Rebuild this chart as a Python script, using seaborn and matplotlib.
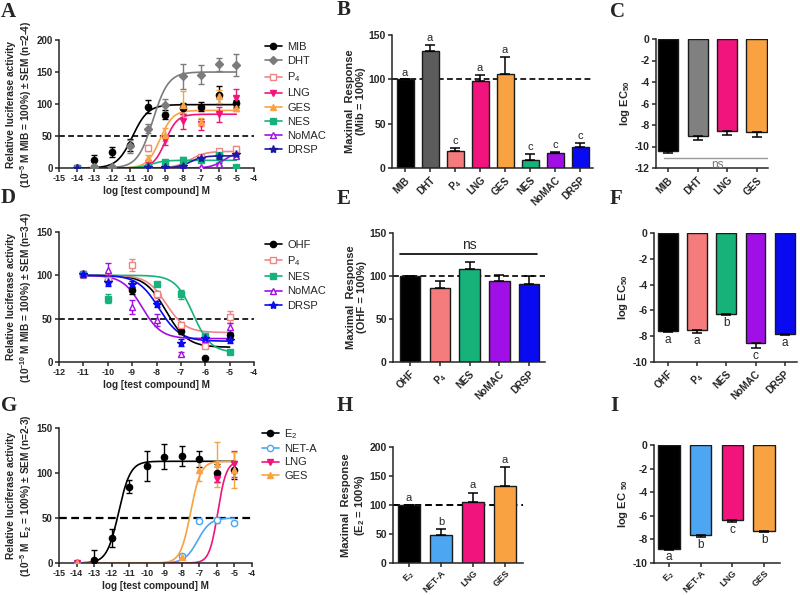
import numpy as np
import pandas as pd
import matplotlib
matplotlib.use("Agg")
import matplotlib.pyplot as plt
import seaborn as sns
from matplotlib.lines import Line2D

nan = np.nan

# ---------------- panel A: agonist curves (10^-5 M MIB = 100%) ----------------
a_x = [-14, -13, -12, -11, -10, -9, -8, -7, -6, -5]
a_mib = [0, 13, 25, 36, 96, 83, 93, 96, 114, 101]
a_mib_err = [0, 8, 8, 9, 10, 7, 9, 7, 14, 5]
a_dht = [0, 2, 2, 34, 61, 98, 143, 146, 162, 161]
a_dht_err = [0, 2, 2, 10, 7, 10, 20, 15, 10, 17]
a_p4 = [0, nan, nan, nan, 31, nan, nan, 17, 26, 30]
a_p4_err = [0, 0, 0, 0, 5, 0, 0, 3, 4, 5]
a_lng = [0, nan, nan, nan, 8, 43, 73, 68, 84, 109]
a_lng_err = [0, 0, 0, 0, 3, 7, 12, 8, 12, 15]
a_ges = [0, nan, nan, nan, 16, 52, 98, 72, 112, 93]
a_ges_err = [0, 0, 0, 0, 4, 10, 22, 6, 10, 4]
a_nes = [0, nan, nan, nan, 1, 10, 12, 13, 20, 1]
a_nes_err = [0, 0, 0, 0, 1, 3, 5, 3, 10, 1]
a_nomac = [0, nan, nan, nan, nan, 0, 0, 1, 6, 19]
a_nomac_err = [0, 0, 0, 0, 0, 0, 0, 1, 2, 3]
a_drsp = [0, nan, nan, nan, 1, 1, 3, 16, 18, 22]
a_drsp_err = [0, 0, 0, 0, 1, 1, 2, 3, 4, 4]
# fitted curves: bottom, top, logEC50, hill
a_fit_mib = (0, 99, -10.85, 1.0)
a_fit_dht = (0, 150, -9.7, 1.0)
a_fit_p4 = (0, 26, -7.6, 1.0)
a_fit_lng = (0, 84, -9.0, 1.3)
a_fit_ges = (0, 90, -9.3, 1.2)
a_fit_nes = (0, 12, -9.8, 1.2)
a_fit_nomac = (0, 25, -5.7, 1.2)
a_fit_drsp = (0, 19, -7.6, 1.2)

# ---------------- panel D: antagonist curves (10^-10 M MIB = 100%) ----------------
d_x = [-11, -10, -9, -8, -7, -6, -5]
d_ohf = [101, 95, 83, 78, 36, 5, 31]
d_ohf_err = [3, 3, 4, 3, 4, 0, 3]
d_p4 = [101, 95, 112, 78, 43, 19, 52]
d_p4_err = [4, 6, 7, 4, 3, 2, 7]
d_nes = [101, 73, nan, 90, 78, 30, 12]
d_nes_err = [3, 5, 0, 2, 5, 3, 2]
d_nomac = [101, 106, 63, 48, 9, 27, 40]
d_nomac_err = [2, 8, 8, 7, 2, 3, 5]
d_drsp = [101, 92, 90, 67, 22, 28, 25]
d_drsp_err = [3, 4, 4, 3, 4, 3, 3]
d_fit_ohf = (17, 100, -7.6, -1.0)
d_fit_p4 = (34, 100, -7.6, -1.1)
d_fit_nes = (11, 100, -6.5, -1.2)
d_fit_nomac = (27, 100, -8.6, -1.1)
d_fit_drsp = (24, 100, -7.9, -1.0)

# ---------------- panel G: ER agonist curves (10^-5 M E2 = 100%) ----------------
g_x = [-14, -13, -12, -11, -10, -9, -8, -7, -6, -5]
g_e2 = [0, 3, 28, 85, 108, 118, 119, 116, 100, 103]
g_e2_err = [0, 12, 10, 7, 17, 14, 11, 9, 10, 10]
g_neta = [0, nan, nan, nan, nan, nan, 8, 47, 48, 45]
g_neta_err = [0, 0, 0, 0, 0, 0, 2, 3, 3, 2]
g_lng = [0, nan, nan, nan, nan, nan, nan, nan, 93, 110]
g_lng_err = [0, 0, 0, 0, 0, 0, 0, 0, 3, 14]
g_ges = [0, nan, nan, nan, nan, nan, 7, 103, 110, 103]
g_ges_err = [0, 0, 0, 0, 0, 0, 2, 12, 25, 20]
g_fit_e2 = (0, 113, -11.6, 1.3)
g_fit_neta = (0, 50, -7.1, 1.2)
g_fit_lng = (0, 113, -5.95, 1.8)
g_fit_ges = (0, 113, -7.5, 1.5)

# ---------------- bar panels ----------------
b_names = ['MIB', 'DHT', 'P$_4$', 'LNG', 'GES', 'NES', 'NoMAC', 'DRSP']
b_vals = [100, 132, 19, 98, 106, 9, 17, 24]
b_err = [0, 7, 4, 7, 19, 7, 1, 4]
b_letters = ['a', 'a', 'c', 'a', 'a', 'c', 'c', 'c']

c_names = ['MIB', 'DHT', 'LNG', 'GES']
c_vals = [-10.45, -9.0, -8.6, -8.65]
c_err = [0.2, 0.43, 0.3, 0.47]

e_names = ['OHF', 'P$_4$', 'NES', 'NoMAC', 'DRSP']
e_vals = [100, 86, 108, 94, 91]
e_err = [0, 8, 8, 7, 9]

f_names = ['OHF', 'P$_4$', 'NES', 'NoMAC', 'DRSP']
f_vals = [-7.57, -7.55, -6.25, -8.53, -7.8]
f_err = [0.13, 0.2, 0.08, 0.39, 0.08]
f_letters = ['a', 'a', 'b', 'c', 'a']

h_names = ['E$_2$', 'NET-A', 'LNG', 'GES']
h_vals = [100, 49, 105, 132]
h_err = [0, 9, 16, 33]
h_letters = ['a', 'b', 'a', 'a']

i_names = ['E$_2$', 'NET-A', 'LNG', 'GES']
i_vals = [-8.78, -7.65, -6.32, -7.31]
i_err = [0.08, 0.14, 0.23, 0.08]
i_letters = ['a', 'b', 'c', 'b']

# colours
BLACK = '#000000'
GREY = '#7b7b7b'
P4C = '#f08585'
LNGC = '#f0147c'
GESC = '#f9a241'
NESC = '#17b27a'
NOMC = '#a010e6'
DRSPC = '#0a0af2'
NETAC = '#4da6f2'

sns.set_style("ticks")
plt.rcParams['font.family'] = ['Liberation Sans', 'DejaVu Sans']
plt.rcParams['font.weight'] = 'bold'
plt.rcParams['axes.labelweight'] = 'bold'
plt.rcParams['mathtext.default'] = 'regular'
plt.rcParams['axes.unicode_minus'] = False
plt.rcParams['axes.linewidth'] = 1.1
plt.rcParams['xtick.major.width'] = 1.1
plt.rcParams['ytick.major.width'] = 1.1
plt.rcParams['xtick.major.size'] = 3
plt.rcParams['ytick.major.size'] = 3

fig = plt.figure(figsize=(8, 5.95), dpi=100)


def px_axes(l, t, r, b):
    return fig.add_axes([l / 800, 1 - b / 595, (r - l) / 800, (b - t) / 595])


def logistic(xs, p):
    bottom, top, ec, hill = p
    return bottom + (top - bottom) / (1 + 10 ** ((ec - xs) * hill))


def dose_panel(ax, x, series, xlim, ylim, yticks, dash_lw=1.2):
    xs = np.linspace(x[0], x[-1], 300)
    for y, err, fit, color, marker, filled in series:
        sns.lineplot(x=xs, y=logistic(xs, fit), color=color, lw=1.2, ax=ax)
        ax.errorbar(x, y, yerr=err, fmt=marker, color=color, ms=4.5 if marker != '*' else 6,
                    mfc=color if filled else 'white', mec=color, mew=1,
                    elinewidth=1, capsize=2.5, capthick=1, zorder=3)
    ax.axhline(50, color='black', ls='--', lw=dash_lw, dashes=(3.5, 2), zorder=1)
    ax.set_xlim(*xlim)
    ax.set_ylim(*ylim)
    ax.set_xticks(range(xlim[0], xlim[1] + 1))
    ax.set_yticks(yticks)
    ax.tick_params(axis='x', labelsize=6.5, pad=1.5)
    ax.tick_params(axis='y', labelsize=7, pad=1.5)
    ax.set_xlabel('log [test compound] M', fontsize=7.2, labelpad=2)
    sns.despine(ax=ax)


def bar_panel(ax, names, vals, errs, colors, xlim, ylim, yticks, tick_size=7.2, tick_pad=2):
    df = pd.DataFrame({'name': names, 'val': vals})
    sns.barplot(data=df, x='name', y='val', hue='name', order=names, hue_order=names,
                palette=colors, saturation=1, width=0.68, edgecolor='#1a1a1a', linewidth=1,
                errorbar=None, legend=False, ax=ax, zorder=2)
    pos = np.arange(len(names))
    lower = [0 if v > 0 else e for v, e in zip(vals, errs)]
    upper = [e if v > 0 else 0 for v, e in zip(vals, errs)]
    ax.errorbar(pos, vals, yerr=[lower, upper], fmt='none', ecolor='black',
                elinewidth=1.1, capsize=3.5, capthick=1.1, zorder=3)
    ax.set_xlim(*xlim)
    ax.set_ylim(*ylim)
    ax.set_yticks(yticks)
    ax.set_xlabel('')
    ax.set_xticks(pos)
    ax.set_xticklabels(names, rotation=45, ha='right', rotation_mode='anchor')
    ax.tick_params(axis='x', labelsize=tick_size, pad=tick_pad)
    ax.tick_params(axis='y', labelsize=7.5, pad=1.5)
    sns.despine(ax=ax)


def legend_at(handles_spec, labels, x, y, spacing):
    handles = [Line2D([0], [0], color=c, marker=m, ms=4.5 if m != '*' else 6,
                      mfc=c if f else 'white', mec=c, lw=1.2)
               for c, m, f in handles_spec]
    fig.legend(handles, labels, loc='upper left', bbox_to_anchor=(x / 800, 1 - y / 595),
               frameon=False, borderpad=0, borderaxespad=0, handlelength=1.5,
               handletextpad=0.5, labelspacing=spacing,
               prop={'family': 'Liberation Sans', 'size': 8, 'weight': 'normal'})


# ---------- A ----------
axA = px_axes(59, 40, 254, 168)
dose_panel(axA, a_x, [
    (a_mib, a_mib_err, a_fit_mib, BLACK, 'o', True),
    (a_dht, a_dht_err, a_fit_dht, GREY, 'D', True),
    (a_p4, a_p4_err, a_fit_p4, P4C, 's', False),
    (a_lng, a_lng_err, a_fit_lng, LNGC, 'v', True),
    (a_ges, a_ges_err, a_fit_ges, GESC, '^', True),
    (a_nes, a_nes_err, a_fit_nes, NESC, 's', True),
    (a_nomac, a_nomac_err, a_fit_nomac, NOMC, '^', False),
    (a_drsp, a_drsp_err, a_fit_drsp, '#1a1aa6', '*', True),
], (-15, -4), (0, 200), [0, 50, 100, 150, 200])
axA.set_ylabel('Relative luciferase activity\n(10$^{-5}$ M MIB = 100%) $\\pm$ SEM (n=2-4)',
               fontsize=7.3, labelpad=2, linespacing=1.15)
legend_at([(BLACK, 'o', True), (GREY, 'D', True), (P4C, 's', False), (LNGC, 'v', True),
           (GESC, '^', True), (NESC, 's', True), (NOMC, '^', False), ('#1a1aa6', '*', True)],
          ['MIB', 'DHT', 'P$_4$', 'LNG', 'GES', 'NES', 'NoMAC', 'DRSP'], 265, 42, 0.38)

# ---------- D ----------
axD = px_axes(59, 232, 254, 362)
dose_panel(axD, d_x, [
    (d_ohf, d_ohf_err, d_fit_ohf, BLACK, 'o', True),
    (d_p4, d_p4_err, d_fit_p4, P4C, 's', False),
    (d_nes, d_nes_err, d_fit_nes, NESC, 's', True),
    (d_nomac, d_nomac_err, d_fit_nomac, NOMC, '^', False),
    (d_drsp, d_drsp_err, d_fit_drsp, DRSPC, '*', True),
], (-12, -4), (0, 150), [0, 50, 100, 150])
axD.set_ylabel('Relative luciferase activity\n(10$^{-10}$ M MIB = 100%) $\\pm$ SEM (n=3-4)',
               fontsize=7.3, labelpad=2, linespacing=1.15)
legend_at([(BLACK, 'o', True), (P4C, 's', False), (NESC, 's', True), (NOMC, '^', False),
           (DRSPC, '*', True)],
          ['OHF', 'P$_4$', 'NES', 'NoMAC', 'DRSP'], 265, 240, 0.38)

# ---------- G ----------
axG = px_axes(59, 428, 252, 563)
dose_panel(axG, g_x, [
    (g_e2, g_e2_err, g_fit_e2, BLACK, 'o', True),
    (g_neta, g_neta_err, g_fit_neta, NETAC, 'o', False),
    (g_lng, g_lng_err, g_fit_lng, LNGC, 'v', True),
    (g_ges, g_ges_err, g_fit_ges, GESC, '^', True),
], (-15, -4), (0, 150), [0, 50, 100, 150], dash_lw=1.6)
axG.set_ylabel('Relative luciferase activity\n(10$^{-5}$ M  E$_2$ = 100%) $\\pm$ SEM (n=2-3)',
               fontsize=7.3, labelpad=2, linespacing=1.15)
legend_at([(BLACK, 'o', True), (NETAC, 'o', False), (LNGC, 'v', True), (GESC, '^', True)],
          ['E$_2$', 'NET-A', 'LNG', 'GES'], 262, 427, 0.3)

# ---------- B ----------
axB = px_axes(392, 35, 593, 168)
bar_panel(axB, b_names, b_vals, b_err,
          [BLACK, '#5c5c5c', '#f47c7c', LNGC, GESC, NESC, NOMC, DRSPC],
          (-0.52, 7.52), (0, 150), [0, 50, 100, 150])
axB.axhline(100, color='black', ls='--', lw=1.2, dashes=(3.5, 2), zorder=1)
for i, (v, e, t) in enumerate(zip(b_vals, b_err, b_letters)):
    axB.text(i, v + e + 2, t, ha='center', va='bottom', fontsize=8, fontweight='normal')
axB.set_ylabel('Maximal  Response\n(Mib = 100%)', fontsize=8, labelpad=2, linespacing=1.15)

# ---------- C ----------
axC = px_axes(656, 39, 768, 168)
bar_panel(axC, c_names, c_vals, c_err, [BLACK, '#808080', LNGC, GESC],
          (-0.41, 3.39), (-12, 0), [0, -2, -4, -6, -8, -10, -12])
axC.plot([-0.14, 3.36], [-11.1, -11.1], color='#9a9a9a', lw=1)
axC.text(1.66, -11.15, 'ns', ha='center', va='top', fontsize=8.5, fontweight='normal', color='#777777')
axC.set_ylabel('log EC$_{50}$', fontsize=8, labelpad=2)

# ---------- E ----------
axE = px_axes(393, 233, 545, 362)
bar_panel(axE, e_names, e_vals, e_err, [BLACK, '#f47c7c', NESC, NOMC, DRSPC],
          (-0.57, 4.53), (0, 150), [0, 50, 100, 150])
axE.axhline(100, color='black', ls='--', lw=1.2, dashes=(3.5, 2), zorder=1)
axE.plot([-0.34, 4.26], [125, 125], color='black', lw=1.2)
axE.text(2, 128, 'ns', ha='center', va='bottom', fontsize=10, fontweight='normal')
axE.set_ylabel('Maximal  Response\n(OHF = 100%)', fontsize=8, labelpad=2, linespacing=1.15)

# ---------- F ----------
axF = px_axes(654, 233, 797, 362)
bar_panel(axF, f_names, f_vals, f_err, [BLACK, '#f47c7c', NESC, NOMC, DRSPC],
          (-0.48, 4.42), (-10, 0), [0, -2, -4, -6, -8, -10])
for i, (v, e, t) in enumerate(zip(f_vals, f_err, f_letters)):
    axF.text(i, v - e - 0.15, t, ha='center', va='top', fontsize=8.5, fontweight='normal')
axF.set_ylabel('log EC$_{50}$', fontsize=8, labelpad=2)

# ---------- H ----------
axH = px_axes(393, 447, 523, 563)
bar_panel(axH, h_names, h_vals, h_err, [BLACK, NETAC, LNGC, GESC],
          (-0.5, 3.56), (0, 200), [0, 50, 100, 150, 200], tick_size=6.6, tick_pad=1)
axH.axhline(100, color='black', ls='--', lw=1.4, dashes=(3.5, 2), zorder=1)
for i, (v, e, t) in enumerate(zip(h_vals, h_err, h_letters)):
    axH.text(i, v + e + 4, t, ha='center', va='bottom', fontsize=8, fontweight='normal')
axH.set_ylabel('Maximal  Response\n(E$_2$ = 100%)', fontsize=8, labelpad=2, linespacing=1.15)

# ---------- I ----------
axI = px_axes(654, 445, 780, 563)
bar_panel(axI, i_names, i_vals, i_err, [BLACK, NETAC, LNGC, GESC],
          (-0.47, 3.5), (-10, 0), [0, -2, -4, -6, -8, -10], tick_size=6.6, tick_pad=1)
for i, (v, e, t) in enumerate(zip(i_vals, i_err, i_letters)):
    axI.text(i, v - e - 0.15, t, ha='center', va='top', fontsize=8.5, fontweight='normal')
axI.set_ylabel('log EC $_{50}$', fontsize=8, labelpad=2)

# panel letters
for lab, x, y in [('A', 1, 2), ('B', 337, 0), ('C', 610, 2), ('D', 1, 188),
                  ('E', 337, 189), ('F', 610, 189), ('G', 1, 396), ('H', 337, 396), ('I', 610, 396)]:
    fig.text(x / 800, 1 - y / 595, lab, ha='left', va='top', fontsize=15,
             fontweight='bold', family='Liberation Serif')

fig.savefig('out.png', dpi=100)
